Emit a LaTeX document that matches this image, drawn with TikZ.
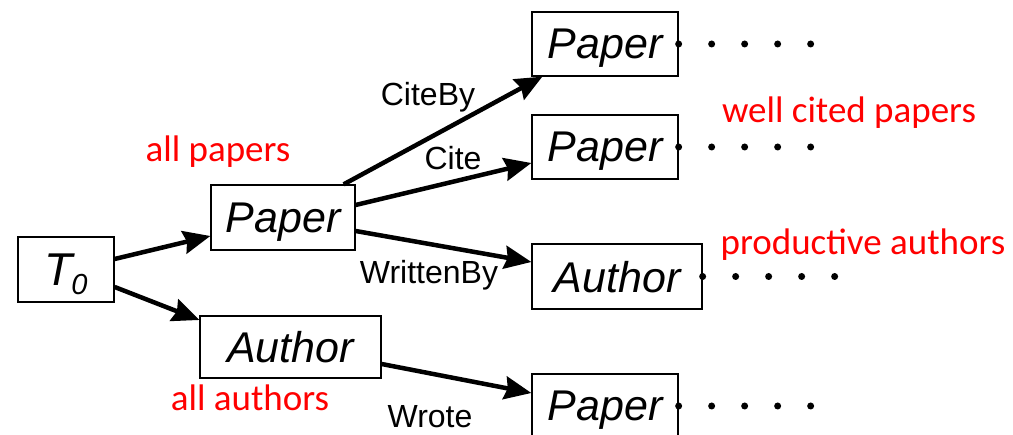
\documentclass[tikz,border=0pt]{standalone}
\usepackage{fontspec}
\setmainfont{Liberation Sans}
\newfontfamily\notefont{Carlito}
\usetikzlibrary{arrows.meta}

\tikzset{
  box/.style = {draw, line width=1.3pt, inner sep=0pt, minimum height=64pt, text depth=0pt,
                font=\fontsize{43}{43}\selectfont\itshape},
  rel/.style = {font=\fontsize{32}{32}\selectfont},
  note/.style = {text=red, font=\fontsize{37}{37}\notefont},
  arr/.style = {-{Stealth[length=27pt, width=23pt, inset=3pt]}, line width=4.5pt},
}

\begin{document}
\begin{tikzpicture}[x=1pt, y=-1pt]
            \clip (0,0) rectangle (1013,435);

            \node[box, minimum width=96pt, minimum height=65pt] (t0) at (66,269.5)
                {\fontsize{46}{46}\selectfont T\kern-1pt\raisebox{-9pt}{\fontsize{29}{29}\selectfont 0}};
            \node[box, minimum width=144pt, minimum height=65pt] (pm) at (283,217.5) {Paper};
            \node[box, minimum width=181pt, minimum height=62pt] (al) at (290.5,347) {Author};
            \node[box, minimum width=146pt] (p1) at (605,44) {Paper};
            \node[box, minimum width=146pt] (p2) at (605,147) {Paper};
            \node[box, minimum width=170pt, minimum height=65pt] (ar) at (617,276.5) {Author};
            \node[box, minimum width=146pt] (p4) at (605,406) {Paper};

            \foreach \i/\xa/\ya/\j/\xb/\yb in {
            t0.east/0/10.5/pm.west/0/-18.5,
            t0.east/0/-17.5/al.west/0/27,
            pm.north east/-12/0/p1.south west/11/0,
            pm.east/0/12.5/p2.west/0/-16,
            pm.east/0/-13.5/ar.west/0/14.5,
            al.east/0/-17/p4.west/0/13
            }{\draw[arr] ([xshift=\xa pt, yshift=\ya pt]\i) -- ([xshift=\xb pt, yshift=\yb pt]\j);}

            \foreach \n in {p1,p2,ar,p4}{
              \foreach \k in {0,...,4}{\fill (\n.east) ++(\k*33,0) circle (3.5pt);}
            }

            \node[rel] (citeby) at (428,97) {CiteBy};
            \node[rel] (cite) at (453,158) {Cite};
            \node[rel] (writtenby) at (429,275) {WrittenBy};
            \node[rel] (wrote) at (430,417) {Wrote};

            \node[note] (allpapers) at (218,152) {all papers};
            \node[note] (allauthors) at (250,398) {all authors};
            \node[note] (wellcited) at (849,113) {well cited papers};
            \node[note] (productive) at (863,245) {productive authors};
        \end{tikzpicture}
\end{document}
